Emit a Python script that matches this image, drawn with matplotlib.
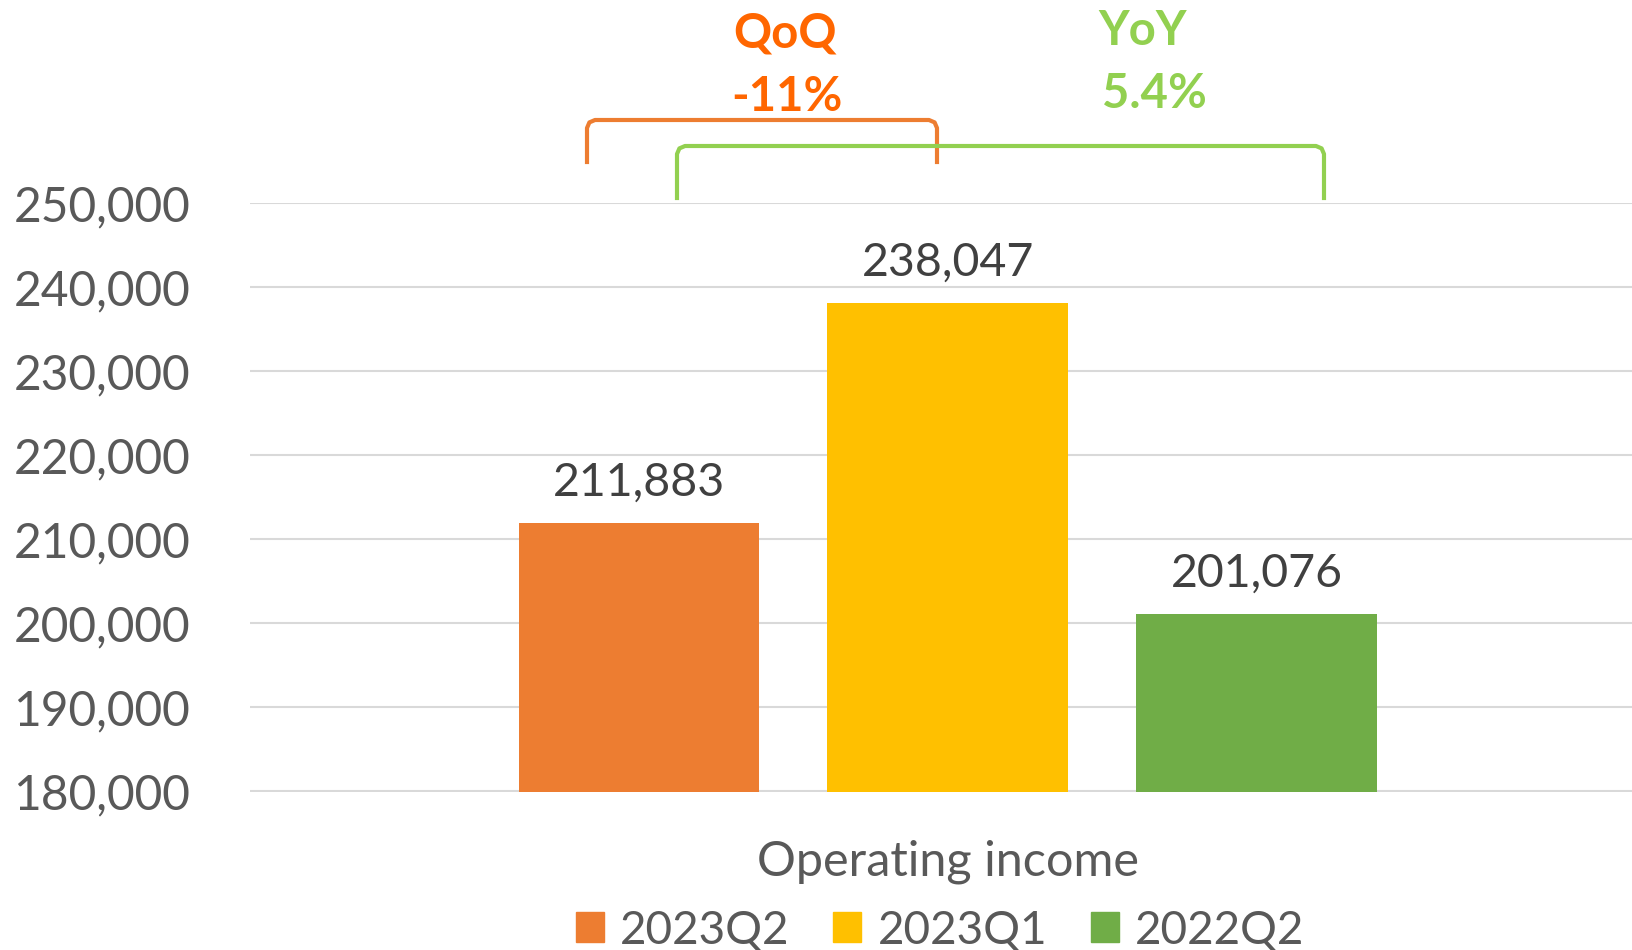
import numpy as np
import matplotlib.pyplot as plt
from matplotlib.patches import Patch
from matplotlib.ticker import FuncFormatter

plt.rcParams['font.family'] = ['Lato', 'DejaVu Sans']

# data
series = ['2023Q2', '2023Q1', '2022Q2']
values = [211883, 238047, 201076]
colors = ['#ED7D31', '#FFC000', '#70AD47']
category = 'Operating income'
yticks = [180000, 190000, 200000, 210000, 220000, 230000, 240000, 250000]

W, H = 1633, 950
fig = plt.figure(figsize=(W / 100, H / 100), dpi=100)
ax = fig.add_axes([250 / W, 1 - 791.5 / H, 1 - 250 / W, (791.5 - 203) / H])

x = np.arange(len(values))
bars = ax.bar(x, values, width=0.78, color=colors, zorder=3)
ax.bar_label(bars, labels=[f'{v:,}' for v in values], padding=14,
             fontsize=33.5, color='#404040')

ax.set_ylim(180000, 250000)
ax.set_xlim(-1.26, 3.22)
ax.set_yticks(yticks)
ax.yaxis.set_major_formatter(FuncFormatter(lambda v, p: f'{int(v):,}'))
ax.tick_params(axis='y', length=0, labelsize=34.5, labelcolor='#595959', pad=43)
ax.set_xticks([])
ax.grid(axis='y', color='#D9D9D9', lw=1.5, zorder=0)
for s in ax.spines.values():
    s.set_visible(False)

# category label and legend
fig.text(948 / W, 1 - 862 / H, category, ha='center', va='center',
         fontsize=35, color='#595959')
handles = [Patch(color=c, label=s) for c, s in zip(colors, series)]
fig.legend(handles=handles, loc='center', bbox_to_anchor=(940 / W, 1 - 930 / H),
           ncol=3, frameon=False, fontsize=33, labelcolor='#595959',
           handlelength=0.62, handleheight=0.62, handletextpad=0.35, columnspacing=0.95)


# brackets above the bars (pixel coords of the figure)
def bracket(x0, x1, ytop, ybot0, ybot1, color):
    r = 8
    xs = [x0, x0, x0 + r * 0.3, x0 + r, x1 - r, x1 - r * 0.3, x1, x1]
    ys = [ybot0, ytop + r, ytop + r * 0.3, ytop, ytop, ytop + r * 0.3, ytop + r, ybot1]
    fig.add_artist(plt.Line2D([v / W for v in xs], [1 - v / H for v in ys],
                              color=color, lw=3, transform=fig.transFigure,
                              solid_joinstyle='round'))


bracket(587, 937, 120, 162, 162, '#ED7D31')
bracket(677, 1324, 146, 198, 198, '#92D050')

fig.text(785 / W, 1 - 33 / H, 'QoQ', ha='center', va='center', fontsize=34,
         fontweight='bold', color='#FF6600')
fig.text(787 / W, 1 - 97 / H, '-11%', ha='center', va='center', fontsize=34,
         fontweight='bold', color='#FF6600')
fig.text(1143 / W, 1 - 31 / H, 'YoY', ha='center', va='center', fontsize=34,
         fontweight='bold', color='#92D050')
fig.text(1154 / W, 1 - 94 / H, '5.4%', ha='center', va='center', fontsize=34,
         fontweight='bold', color='#92D050')

fig.savefig('out.png', dpi=100)
